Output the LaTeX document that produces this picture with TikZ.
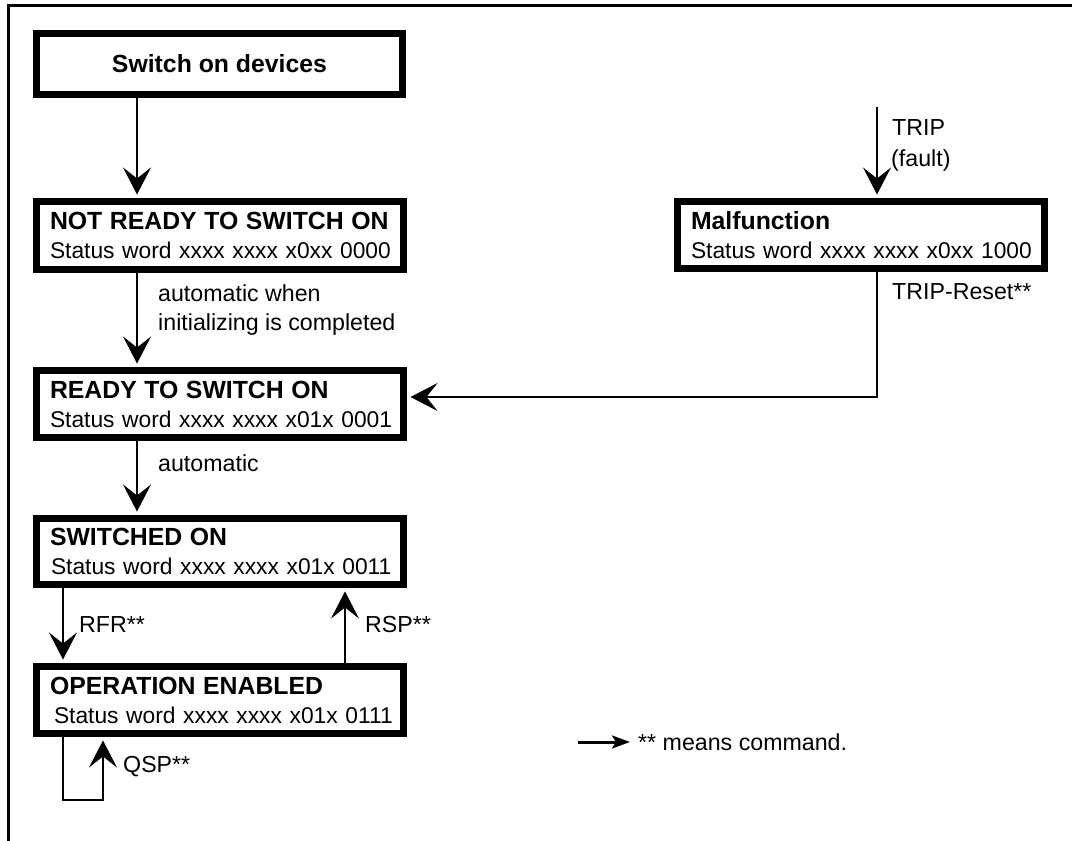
\documentclass[tikz,border=0pt]{standalone}
\usepackage{fontspec}
\setmainfont{Liberation Sans}
\usetikzlibrary{arrows.meta}
\begin{document}
\begin{tikzpicture}[x=1pt,y=-1pt,
  regfont/.style={font=\fontsize{23.2}{29}\selectfont},
  statebox/.style={draw, line width=7pt, rectangle, font=\fontsize{22.8}{29}\selectfont, align=left,
    text width=340pt, inner xsep=13.5pt, inner ysep=0pt, minimum width=367pt},
  titlebox/.style={draw, line width=7pt, rectangle, inner sep=0pt,
    minimum width=366pt, minimum height=61pt,
    font=\fontsize{24.8}{29}\selectfont\bfseries},
  arr/.style={line width=1.2pt, -{Stealth[length=27pt,width=28pt,inset=11pt]}, shorten >=3.5pt},
  lbl/.style={regfont, inner sep=0pt, anchor=west, align=left},
  frame/.style={line width=3pt}
]
\useasboundingbox (0,0) rectangle (1072,841);
\newcommand{\ttl}[1]{\mbox{\fontsize{24.8}{29}\selectfont\bfseries #1}}

% frame
\draw[frame] (8.7,841) -- (8.7,5.8) -- (1072,5.8);

% boxes
\node[titlebox] (b1) at (219.5,64) {Switch on devices};
\node[statebox, minimum height=68pt] (b2) at (220,235.5)
  {\ttl{NOT READY TO SWITCH ON}\\\mbox{Status word xxxx xxxx x0xx 0000}};
\node[statebox, minimum height=67pt] (b3) at (220,404)
  {\ttl{READY TO SWITCH ON}\\\mbox{Status word xxxx xxxx x01x 0001}};
\node[statebox, minimum height=66pt] (b4) at (220,551.5)
  {\ttl{SWITCHED ON}\\\mbox{\hspace*{1pt}Status word xxxx xxxx x01x 0011}};
\node[statebox, minimum height=67pt] (b5) at (220,700)
  {\ttl{OPERATION ENABLED}\\\mbox{\hspace*{4pt}Status word xxxx xxxx x01x 0111}};
\node[statebox, minimum height=67pt] (mal) at (861,235)
  {\ttl{Malfunction}\\\mbox{Status word xxxx xxxx x0xx 1000}};

% helper coordinates
\coordinate (xa) at (137,0);
\coordinate (xr) at (63,0);
\coordinate (xs) at (345,0);
\coordinate (xq) at (103,0);
\coordinate (xt) at (877,0);
\coordinate (tt) at (877,107);
\coordinate (ry) at (0,397);
\coordinate (qb) at (0,800);

% connectors
\draw[arr] (b1.south -| xa) -- (b2.north -| xa);
\draw[arr] (b2.south -| xa) -- (b3.north -| xa);
\draw[arr] (b3.south -| xa) -- (b4.north -| xa);
\draw[arr] (b4.south -| xr) -- (b5.north -| xr);
\draw[arr] (b5.north -| xs) -- (b4.south -| xs);
\draw[arr] (b5.south -| xr) -- (xr |- qb) -- (xq |- qb) -- (b5.south -| xq);
\draw[arr] (tt) -- (mal.north -| tt);
\draw[arr] (mal.south -| xt) -- (xt |- ry) -- (b3.east |- ry);

% labels
\node[lbl] (l1) at (158,310) {\fontsize{23.2}{24}\selectfont automatic when\\initializing is completed};
\node[lbl] (l2) at (158,463) {automatic};
\node[lbl] (l3) at (79,625) {RFR**};
\node[lbl] (l4) at (365,625) {RSP**};
\node[lbl] (l5) at (123,767) {QSP**};
\node[lbl] (l6) at (892,128) {TRIP};
\node[lbl] (l7) at (891,160) {(fault)};
\node[lbl] (l8) at (892,292) {TRIP-Reset**};

% legend
\coordinate (lg1) at (578,742);
\coordinate (lg2) at (630,742);
\draw[line width=3pt, -{Stealth[length=18pt,width=13pt,inset=4pt]}] (lg1) -- (lg2);
\node[lbl] (lgt) at (638,742) {** means command.};
\end{tikzpicture}
\end{document}
